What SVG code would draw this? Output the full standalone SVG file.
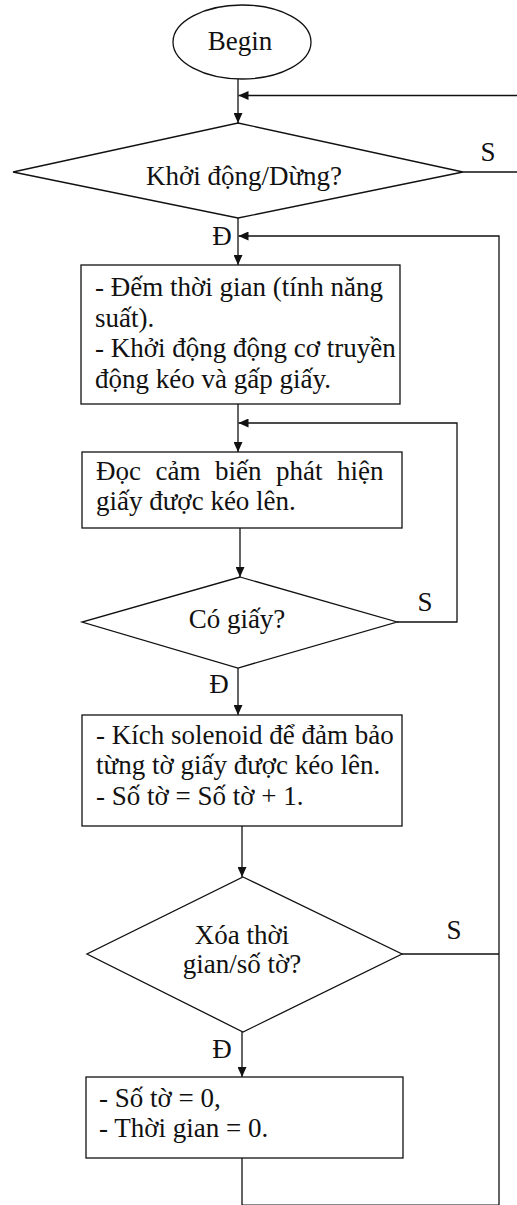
<svg xmlns="http://www.w3.org/2000/svg" width="517" height="1205" viewBox="0 0 517 1205">
<style>
.shape{fill:#fff;stroke:#111;stroke-width:1.3}
.conn{fill:none;stroke:#111;stroke-width:1.3}
text{font-family:"Liberation Serif","Times New Roman",serif;font-size:27px;fill:#111}
.c{text-anchor:middle}
</style>
<defs>
<marker id="arr" markerUnits="userSpaceOnUse" markerWidth="10" markerHeight="9" refX="10" refY="4.5" orient="auto">
<path d="M0,0 L10,4.5 L0,9 z" fill="#111"/>
</marker>
</defs>
<rect width="517" height="1205" fill="#fff"/>
<g id="connectors">
<path class="conn" d="M238,79 V123" marker-end="url(#arr)"/>
<path class="conn" d="M517,95.5 H238.5" marker-end="url(#arr)"/>
<path class="conn" d="M463,172 H517"/>
<path class="conn" d="M238,218 V265" marker-end="url(#arr)"/>
<path class="conn" d="M499,1205.2 V236 H238.5" marker-end="url(#arr)"/>
<path class="conn" d="M238,404 V452" marker-end="url(#arr)"/>
<path class="conn" d="M397,622 H457 V423 H238.5" marker-end="url(#arr)"/>
<path class="conn" d="M240,528 V577" marker-end="url(#arr)"/>
<path class="conn" d="M238,668 V715" marker-end="url(#arr)"/>
<path class="conn" d="M242,826 V877" marker-end="url(#arr)"/>
<path class="conn" d="M402,954 H499"/>
<path class="conn" d="M242,1032 V1077" marker-end="url(#arr)"/>
<path class="conn" d="M242,1158 V1205.2 H499"/>
<text x="488" y="161" class="c">S</text>
<text x="222" y="245" class="c">Đ</text>
<text x="425" y="611" class="c">S</text>
<text x="219" y="693" class="c">Đ</text>
<text x="454" y="939" class="c">S</text>
<text x="222" y="1058" class="c">Đ</text>
</g>
<g id="begin">
<ellipse class="shape" cx="242" cy="42" rx="69" ry="37"/>
<text x="240" y="50" class="c">Begin</text>
</g>
<g id="start-stop">
<polygon class="shape" points="238,123 463,172 238,218 13,172"/>
<text x="244" y="185" class="c">Khởi động/Dừng?</text>
</g>
<g id="count-time">
<rect class="shape" x="81" y="265" width="319" height="139"/>
<text x="95" y="296">- Đếm thời gian (tính năng</text>
<text x="95" y="327">suất).</text>
<text x="95" y="357">- Khởi động động cơ truyền</text>
<text x="95" y="388">động kéo và gấp giấy.</text>
</g>
<g id="read-sensor">
<rect class="shape" x="82" y="452" width="320" height="76"/>
<text x="96" y="480" word-spacing="7.8">Đọc cảm biến phát hiện</text>
<text x="96" y="510">giấy được kéo lên.</text>
</g>
<g id="has-paper">
<polygon class="shape" points="240,577 397,622 238,668 82,622"/>
<text x="237" y="628" class="c">Có giấy?</text>
</g>
<g id="solenoid">
<rect class="shape" x="82" y="715" width="320" height="111"/>
<text x="96" y="744">- Kích solenoid để đảm bảo</text>
<text x="96" y="774">từng tờ giấy được kéo lên.</text>
<text x="96" y="805">- Số tờ = Số tờ + 1.</text>
</g>
<g id="clear">
<polygon class="shape" points="243,877 402,954 243,1032 87,954"/>
<text x="242" y="944" class="c">Xóa thời</text>
<text x="242" y="973" class="c">gian/số tờ?</text>
</g>
<g id="reset">
<rect class="shape" x="86" y="1077" width="317" height="81"/>
<text x="99" y="1107">- Số tờ = 0,</text>
<text x="99" y="1137">- Thời gian = 0.</text>
</g>
</svg>
